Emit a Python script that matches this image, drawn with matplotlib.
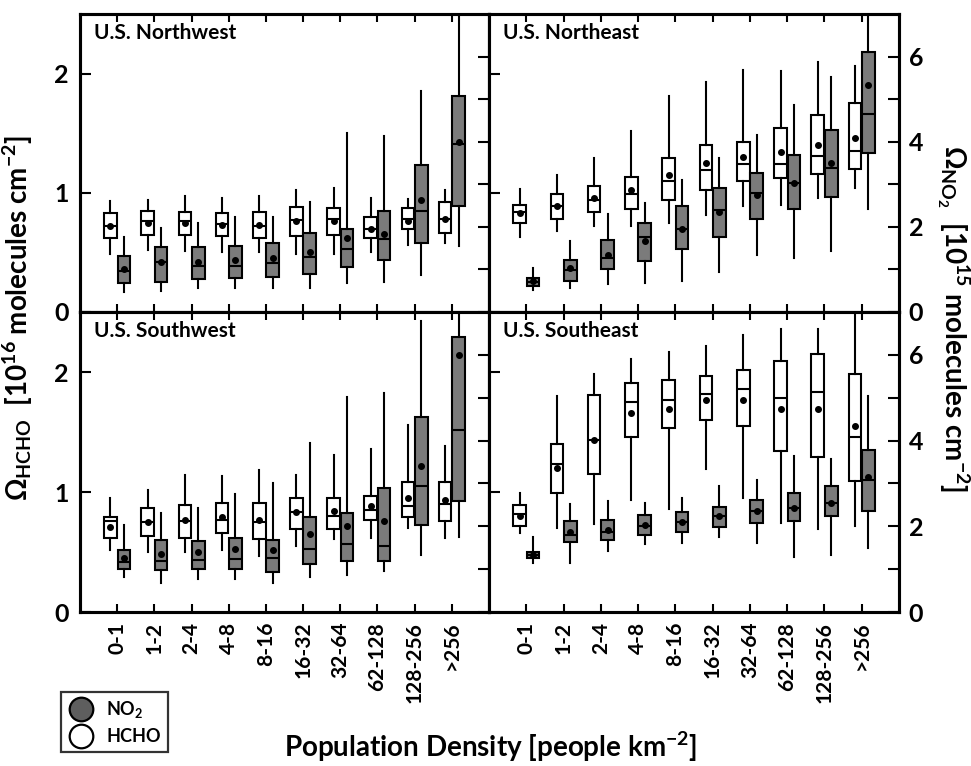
import matplotlib.pyplot as plt
from matplotlib.lines import Line2D
import numpy as np

plt.rcParams['font.family'] = ['Lato', 'DejaVu Sans']
plt.rcParams['font.weight'] = 'bold'
plt.rcParams['mathtext.fontset'] = 'custom'
plt.rcParams['mathtext.rm'] = 'Lato:bold'
plt.rcParams['mathtext.bf'] = 'Lato:bold'
plt.rcParams['mathtext.it'] = 'Lato:bold'

categories = ['0-1', '1-2', '2-4', '4-8', '8-16', '16-32', '32-64', '62-128', '128-256', '>256']
regions = ['U.S. Northwest', 'U.S. Northeast', 'U.S. Southwest', 'U.S. Southeast']

# rows: (whisker low, q1, median, q3, whisker high, mean)
# HCHO in 1e16 molec/cm2, NO2 in 1e15 molec/cm2
nw_hcho = [(0.49, 0.62, 0.72, 0.83, 0.93, 0.72), (0.52, 0.65, 0.76, 0.85, 0.94, 0.75),
           (0.51, 0.65, 0.76, 0.84, 0.97, 0.75), (0.50, 0.64, 0.74, 0.83, 0.96, 0.73),
           (0.50, 0.62, 0.72, 0.84, 0.97, 0.73), (0.49, 0.64, 0.77, 0.88, 1.02, 0.76),
           (0.49, 0.65, 0.78, 0.87, 1.04, 0.76), (0.50, 0.62, 0.70, 0.80, 0.96, 0.70),
           (0.56, 0.70, 0.78, 0.87, 0.95, 0.76), (0.58, 0.66, 0.78, 0.92, 1.02, 0.78)]
nw_no2 = [(0.47, 0.68, 0.96, 1.31, 1.75, 1.01), (0.49, 0.71, 1.17, 1.52, 1.98, 1.17),
          (0.57, 0.78, 1.08, 1.52, 2.09, 1.18), (0.57, 0.80, 1.08, 1.54, 2.24, 1.21),
          (0.57, 0.82, 1.14, 1.63, 2.24, 1.26), (0.57, 0.89, 1.30, 1.85, 2.58, 1.41),
          (0.69, 1.06, 1.49, 1.96, 4.20, 1.73), (0.71, 1.21, 1.71, 2.38, 4.13, 1.84),
          (0.86, 1.61, 2.38, 3.45, 5.18, 2.62), (1.55, 2.49, 3.95, 5.08, 7.50, 4.00)]

ne_hcho = [(0.63, 0.75, 0.84, 0.90, 1.03, 0.83), (0.68, 0.78, 0.89, 0.99, 1.15, 0.89),
           (0.72, 0.84, 0.94, 1.06, 1.29, 0.96), (0.72, 0.86, 0.99, 1.13, 1.52, 1.02),
           (0.75, 0.94, 1.10, 1.29, 1.81, 1.15), (0.81, 1.02, 1.19, 1.40, 1.93, 1.25),
           (0.89, 1.10, 1.24, 1.43, 2.03, 1.30), (0.90, 1.12, 1.24, 1.54, 2.02, 1.34),
           (0.96, 1.16, 1.31, 1.65, 2.10, 1.40), (1.04, 1.20, 1.35, 1.75, 2.06, 1.46)]
ne_no2 = [(0.51, 0.62, 0.71, 0.81, 1.04, 0.72), (0.57, 0.72, 0.98, 1.23, 1.67, 1.04),
          (0.65, 1.01, 1.26, 1.70, 2.30, 1.35), (0.69, 1.19, 1.75, 2.09, 2.57, 1.66),
          (0.73, 1.47, 1.95, 2.49, 3.10, 1.95), (0.94, 1.77, 2.39, 2.91, 3.61, 2.34),
          (1.33, 2.19, 2.79, 3.27, 4.15, 2.75), (1.27, 2.41, 3.04, 3.69, 4.86, 3.04),
          (1.44, 2.71, 3.39, 4.27, 5.51, 3.49), (2.43, 3.73, 4.65, 6.11, 7.50, 5.33)]

sw_hcho = [(0.52, 0.62, 0.76, 0.79, 0.95, 0.71), (0.50, 0.63, 0.75, 0.87, 1.02, 0.75),
           (0.50, 0.62, 0.76, 0.89, 1.14, 0.77), (0.52, 0.66, 0.77, 0.91, 1.13, 0.79),
           (0.47, 0.61, 0.75, 0.91, 1.18, 0.77), (0.55, 0.69, 0.83, 0.95, 1.14, 0.83),
           (0.61, 0.69, 0.80, 0.95, 1.31, 0.84), (0.62, 0.77, 0.85, 0.97, 1.36, 0.88),
           (0.70, 0.79, 0.88, 1.08, 1.56, 0.95), (0.62, 0.76, 0.90, 1.08, 1.38, 0.93)]
sw_no2 = [(0.81, 1.00, 1.16, 1.44, 2.02, 1.26), (0.68, 0.97, 1.20, 1.67, 2.31, 1.36),
          (0.78, 1.00, 1.22, 1.66, 2.43, 1.40), (0.76, 1.00, 1.24, 1.73, 2.75, 1.48),
          (0.68, 0.93, 1.26, 1.69, 3.02, 1.44), (0.82, 1.11, 1.48, 2.21, 3.94, 1.82),
          (0.86, 1.18, 1.58, 2.32, 5.02, 2.00), (0.96, 1.20, 1.55, 2.89, 5.12, 2.13),
          (1.33, 2.02, 2.94, 4.54, 6.78, 3.40), (1.75, 2.59, 4.25, 6.42, 7.50, 6.00)]

se_hcho = [(0.66, 0.72, 0.82, 0.89, 0.99, 0.80), (0.70, 0.99, 1.23, 1.40, 1.80, 1.20),
           (0.73, 1.15, 1.43, 1.81, 1.98, 1.43), (0.93, 1.46, 1.75, 1.91, 2.11, 1.66),
           (0.86, 1.53, 1.77, 1.93, 2.17, 1.69), (1.19, 1.60, 1.82, 1.97, 2.22, 1.77),
           (0.95, 1.55, 1.86, 2.02, 2.31, 1.77), (0.74, 1.34, 1.78, 2.09, 2.36, 1.69),
           (0.69, 1.29, 1.83, 2.15, 2.36, 1.69), (0.72, 1.09, 1.46, 1.98, 2.55, 1.55)]
se_no2 = [(1.14, 1.26, 1.33, 1.40, 1.74, 1.33), (1.14, 1.64, 1.79, 2.13, 2.51, 1.87),
          (1.43, 1.67, 1.87, 2.14, 2.58, 1.92), (1.59, 1.80, 2.00, 2.27, 2.55, 2.04),
          (1.61, 1.86, 2.09, 2.33, 2.66, 2.09), (1.75, 1.98, 2.24, 2.45, 2.93, 2.24),
          (1.61, 2.07, 2.35, 2.62, 3.08, 2.35), (1.28, 2.13, 2.43, 2.77, 3.65, 2.43),
          (1.33, 2.24, 2.55, 2.93, 3.58, 2.55), (1.49, 2.35, 3.08, 3.77, 5.04, 3.15)]

hcho_data = [nw_hcho, ne_hcho, sw_hcho, se_hcho]
no2_data = [nw_no2, ne_no2, sw_no2, se_no2]


def to_stats(rows):
    return [dict(whislo=r[0], q1=r[1], med=r[2], q3=r[3], whishi=r[4], mean=r[5], fliers=[])
            for r in rows]


def draw_boxes(ax, rows, pos, face):
    lw = 1.5
    ax.bxp(to_stats(rows), positions=pos, widths=0.34, patch_artist=True,
           showmeans=True, showcaps=False, showfliers=False, manage_ticks=False,
           boxprops=dict(facecolor=face, edgecolor='black', linewidth=lw),
           medianprops=dict(color='black', linewidth=lw),
           whiskerprops=dict(color='black', linewidth=lw),
           meanprops=dict(marker='o', markerfacecolor='black', markeredgecolor='black',
                          markersize=4))


fig = plt.figure(figsize=(9.71, 7.66), dpi=100)

x_left, x_mid, x_right = 0.0824, 0.5036, 0.9259
y_bot, y_mid, y_top = 0.201, 0.5927, 0.9817
boxes = [(x_left, y_mid, x_mid - x_left, y_top - y_mid),
         (x_mid, y_mid, x_right - x_mid, y_top - y_mid),
         (x_left, y_bot, x_mid - x_left, y_mid - y_bot),
         (x_mid, y_bot, x_right - x_mid, y_mid - y_bot)]

pos = np.arange(1, len(categories) + 1)

for k in range(4):
    ax = fig.add_axes(boxes[k])
    ax2 = ax.twinx()
    draw_boxes(ax, hcho_data[k], pos - 0.18, 'white')
    draw_boxes(ax2, no2_data[k], pos + 0.18, '#7b7b7b')

    ax.set_xlim(0, 11)
    ax.set_ylim(0, 2.5)
    ax2.set_ylim(0, 7)

    ax.set_xticks(pos)
    ax.set_yticks([0, 1, 2])
    ax2.set_yticks([0, 2, 4, 6])
    ax2.set_yticks([1, 3, 5], minor=True)

    ax.tick_params(axis='x', direction='in', length=6, width=1.5, top=True, pad=7,
                   labelsize=15)
    ax.tick_params(axis='y', direction='in', length=8, width=1.5, pad=8, labelsize=18)
    ax2.tick_params(axis='y', which='both', direction='in', length=8, width=1.5, pad=7,
                    labelsize=18)

    if k < 2:
        ax.set_xticklabels([])
    else:
        ax.set_xticklabels(categories, rotation=90, fontweight='bold')
    if k % 2 == 1:
        ax.tick_params(labelleft=False)
    else:
        ax2.tick_params(labelright=False)

    for a in (ax, ax2):
        for s in a.spines.values():
            s.set_linewidth(2.2)

    ax.text(0.035, 0.935, regions[k], transform=ax.transAxes, fontsize=15,
            fontweight='bold', va='center', ha='left')

fig.text(0.018, 0.585, r'$\Omega_{\mathrm{HCHO}}$  [10$^{16}$ molecules cm$^{-2}$]',
         rotation=90, ha='center', va='center', fontsize=20, fontweight='bold')
fig.text(0.982, 0.585, r'$\Omega_{\mathrm{NO}_2}$  [10$^{15}$ molecules cm$^{-2}$]',
         rotation=-90, ha='center', va='center', fontsize=20, fontweight='bold')
fig.text(0.505, 0.012, r'Population Density [people km$^{-2}$]', ha='center',
         va='baseline', fontsize=20, fontweight='bold')

handles = [Line2D([], [], marker='o', linestyle='', markersize=17, markerfacecolor='#5e5e5e',
                  markeredgecolor='black', markeredgewidth=1.6),
           Line2D([], [], marker='o', linestyle='', markersize=17, markerfacecolor='white',
                  markeredgecolor='black', markeredgewidth=1.6)]
leg = fig.legend(handles, [r'NO$_2$', 'HCHO'], loc='lower left',
                 bbox_to_anchor=(0.063, 0.018), frameon=True, fancybox=False,
                 edgecolor='black', handletextpad=0.7, labelspacing=0.45,
                 borderpad=0.4, handlelength=1.4, borderaxespad=0,
                 prop=dict(weight='bold', size=13))
leg.get_frame().set_linewidth(1.6)

fig.savefig('out.png', dpi=100)
